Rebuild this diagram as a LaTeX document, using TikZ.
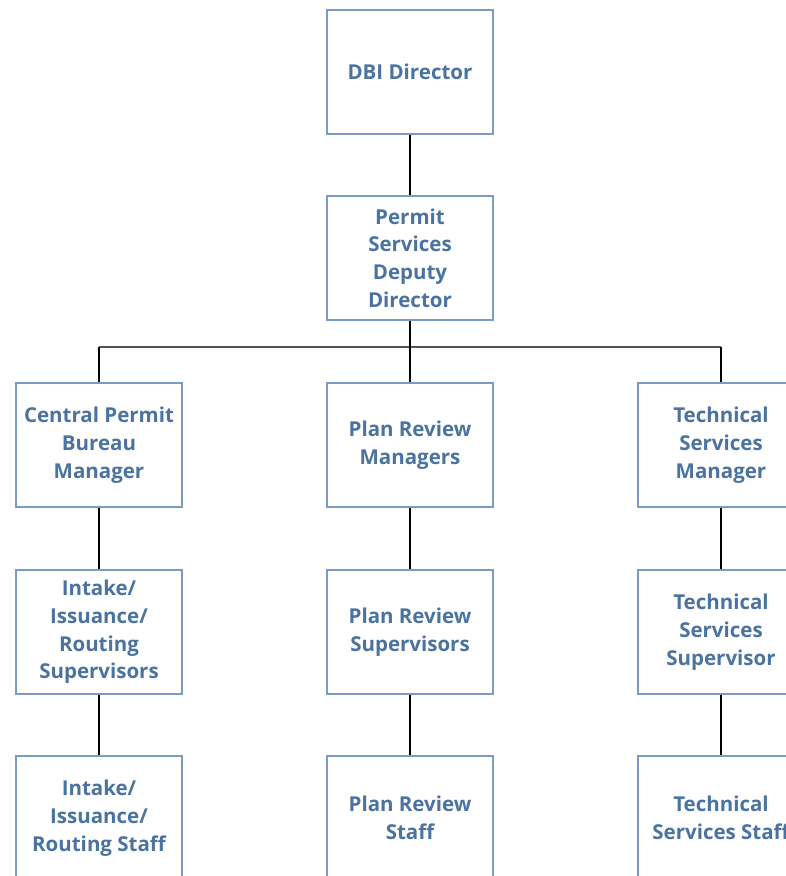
\documentclass[tikz,border=0pt]{standalone}
\usepackage{fontspec}
\setmainfont{Open Sans}
\definecolor{boxline}{HTML}{7A9CC4}
\definecolor{boxtext}{HTML}{4A73A0}
\definecolor{busline}{HTML}{555555}
\begin{document}
\begin{tikzpicture}[x=1pt,y=-1pt,
  orgbox/.style={draw=boxline, line width=1.4pt, fill=white, minimum width=166pt, minimum height=124pt,
    inner sep=0pt, align=center, text=boxtext, font=\fontsize{20.5}{27.7}\selectfont\bfseries},
  link/.style={draw=black, line width=1.3pt},
  bus/.style={draw=busline, line width=2pt}]
\useasboundingbox (0,0) rectangle (786,876);
\clip (0,0) rectangle (786,876);
\fill[white] (0,0) rectangle (786,876);
\node[orgbox] (dir) at (410,72) {DBI Director};
\node[orgbox] (dep) at (410,258) {Permit\\Services\\Deputy\\Director};
\node[orgbox] (cpb) at (99,445) {Central Permit\\Bureau\\Manager};
\node[orgbox] (prm) at (410,445) {Plan Review\\Managers};
\node[orgbox] (tsm) at (721,445) {Technical\\Services\\Manager};
\node[orgbox] (iis) at (99,632) {Intake/\\Issuance/\\Routing\\Supervisors};
\node[orgbox] (prs) at (410,632) {Plan Review\\Supervisors};
\node[orgbox] (tss) at (721,632) {Technical\\Services\\Supervisor};
\node[orgbox] (ist) at (99,818) {Intake/\\Issuance/\\Routing Staff};
\node[orgbox] (prt) at (410,818) {Plan Review\\Staff};
\node[orgbox] (tst) at (721,818) {Technical\\Services Staff};
\coordinate (busl) at (99,347);
\coordinate (busr) at (721,347);
\draw[bus] (busl) -- (busr);
\draw[link] (dir.south) -- (dep.north);
\draw[link] (dep.south) -- (prm.north);
\draw[link] (busl) -- (cpb.north);
\draw[link] (busr) -- (tsm.north);
\draw[link] (cpb.south) -- (iis.north);
\draw[link] (iis.south) -- (ist.north);
\draw[link] (prm.south) -- (prs.north);
\draw[link] (prs.south) -- (prt.north);
\draw[link] (tsm.south) -- (tss.north);
\draw[link] (tss.south) -- (tst.north);
\end{tikzpicture}
\end{document}
